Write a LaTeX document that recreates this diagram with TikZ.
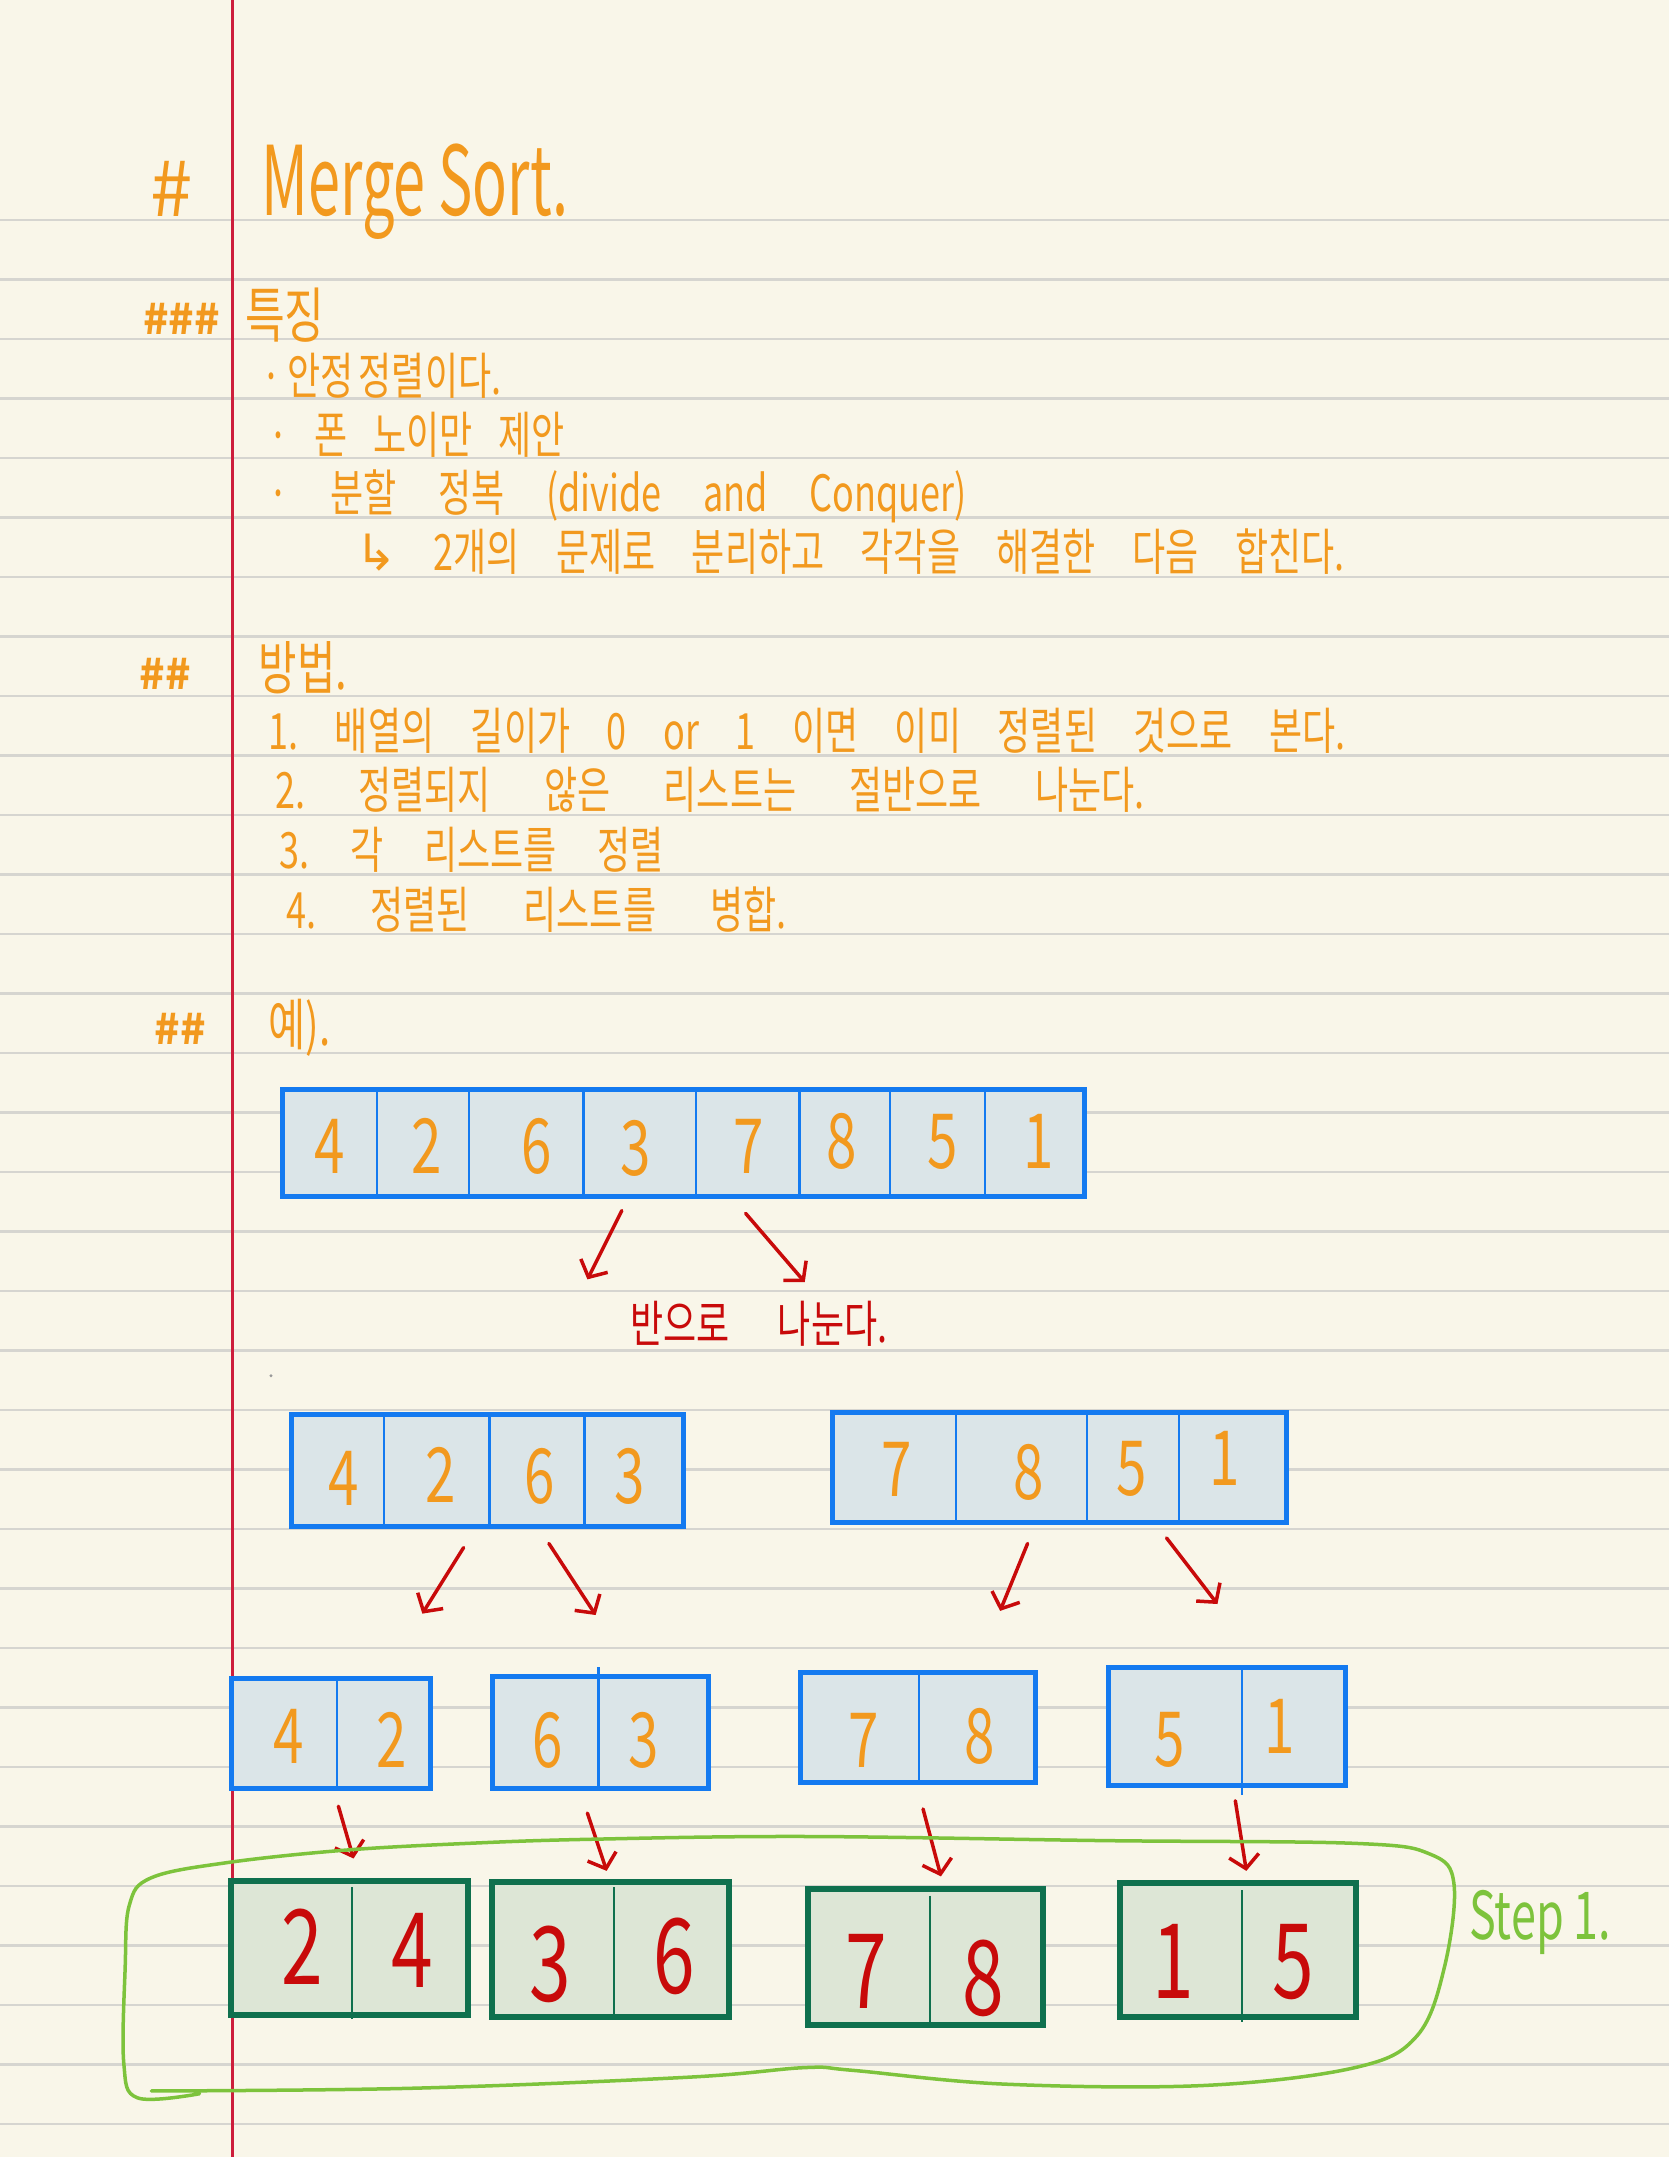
\documentclass[tikz,border=0pt]{standalone}
\usepackage{fontspec}
\setmainfont{Noto Sans CJK KR}
\newfontfamily\kr[FakeStretch=0.72]{Noto Sans CJK KR}
\newfontfamily\symf{DejaVu Sans}
\usetikzlibrary{arrows.meta,fit}
\definecolor{bg}{RGB}{249,246,233}
\definecolor{rulec}{RGB}{214,213,208}
\definecolor{margc}{RGB}{205,30,60}
\definecolor{orng}{RGB}{242,153,30}
\definecolor{blueb}{RGB}{20,122,240}
\definecolor{cellf}{RGB}{219,229,232}
\definecolor{redc}{RGB}{200,10,10}
\definecolor{greenb}{RGB}{15,112,78}
\definecolor{greenf}{RGB}{221,230,214}
\definecolor{lgreen}{RGB}{125,195,60}
\frenchspacing
\tikzset{
  rule/.style={draw=rulec, line width=2.5pt},
  txt/.style={anchor=base west, inner sep=0pt, text=orng, font=\kr\fontsize{50}{56}\selectfont},
  hdr/.style={inner sep=0pt, text=orng, font=\bfseries\fontsize{42}{42}\selectfont},
  bbox/.style={rectangle, draw=blueb, line width=5pt, fill=cellf, inner sep=0pt},
  gbox/.style={rectangle, draw=greenb, line width=6pt, fill=greenf, inner sep=0pt},
  bdiv/.style={draw=blueb, line width=2.5pt},
  gdiv/.style={draw=greenb, line width=2pt},
  dig/.style={inner sep=0pt, text=orng, font=\kr\fontsize{76}{76}\selectfont},
  rdig/.style={inner sep=0pt, text=redc, font=\kr\fontsize{104}{104}\selectfont},
  redarr/.style={draw=redc, line width=3.5pt, line cap=round, -{Straight Barb[length=13pt, width=30pt]}}
}
\begin{document}
\begin{tikzpicture}[x=1.375pt, y=-1.375pt]
\useasboundingbox (0,0) rectangle (1213,1568);
\fill[bg] (0,0) rectangle (1213,1568);
\foreach \k in {0,...,32} { \draw[rule] (0,160+43.25*\k) -- (1213,160+43.25*\k); }
\draw[draw=margc, line width=2.5pt] (169,0) -- (169,1568);

% title
\node[inner sep=0pt, text=orng, font=\fontsize{76}{76}\selectfont] (hash1) at (125,137) {\#};
\node[anchor=base west, inner sep=0pt, text=orng, font=\fontsize{96}{96}\selectfont] (title) at (190,157) {\scalebox{0.6}[1]{Merge Sort.}};

% section 1
\node[hdr] (h3) at (132,232) {\#\#\#};
\node[txt, font=\kr\fontsize{60}{64}\selectfont] (feat) at (178,245) {특징};
\node[txt] (l1) at (190,287) {\makebox[234pt][s]{· 안정 정렬이다.}};
\node[txt] (l2) at (195,330) {\makebox[296pt][s]{· 폰 노이만 제안}};
\node[txt] (l3) at (195,372) {\makebox[698pt][s]{· 분할 정복 (divide and Conquer)}};
\node[txt] (l4) at (258,415) {\makebox[989pt][s]{{\symf ↳} 2개의 문제로 분리하고 각각을 해결한 다음 합친다.}};

% section 2
\node[hdr] (h2a) at (120,490) {\#\#};
\node[txt, font=\kr\fontsize{58}{62}\selectfont] (meth) at (188,501) {방법.};
\node[txt] (m1) at (195,545) {\makebox[1077pt][s]{1. 배열의 길이가 0 or 1 이면 이미 정렬된 것으로 본다.}};
\node[txt] (m2) at (200,588) {\makebox[869pt][s]{2. 정렬되지 않은 리스트는 절반으로 나눈다.}};
\node[txt] (m3) at (203,631) {\makebox[384pt][s]{3. 각 리스트를 정렬}};
\node[txt] (m4) at (208,675) {\makebox[500pt][s]{4. 정렬된 리스트를 병합.}};

% section 3
\node[hdr] (h2b) at (131,748) {\#\#};
\node[txt, font=\kr\fontsize{56}{60}\selectfont] (ex) at (195,760) {예).};

% row 0
\node[bbox, fit={(205,792) (788,870)}] (R0) {};
\foreach \x in {274,341,424,506,581,647,716} { \draw[bdiv] (\x,792) -- (\x,870); }
\node[dig] (r0d1) at (240,833) {4};
\node[dig] (r0d2) at (310,833) {2};
\node[dig] (r0d3) at (390,833) {6};
\node[dig] (r0d4) at (462,835) {3};
\node[dig] (r0d5) at (544,833) {7};
\node[dig] (r0d6) at (612,830) {8};
\node[dig] (r0d7) at (685,830) {5};
\node[dig] (r0d8) at (755,830) {1};

\coordinate (a1s) at (452,880); \coordinate (a1e) at (427,930);
\coordinate (a2s) at (542,882); \coordinate (a2e) at (585,932);
\draw[redarr] (a1s) -- (a1e);
\draw[redarr] (a2s) -- (a2e);
\node[anchor=base west, inner sep=0pt, text=redc, font=\kr\fontsize{50}{56}\selectfont] (half) at (458,976) {\makebox[257pt][s]{반으로 나눈다.}};
\fill[black!40] (197,1000) circle (1.2);

% row 1
\node[bbox, fit={(212,1028) (497,1110)}] (R1a) {};
\foreach \x in {279,356,425} { \draw[bdiv] (\x,1028) -- (\x,1110); }
\node[dig] (r1d1) at (250,1075) {4};
\node[dig] (r1d2) at (320,1072) {2};
\node[dig] (r1d3) at (392,1073) {6};
\node[dig] (r1d4) at (458,1073) {3};
\node[bbox, fit={(605,1027) (935,1107)}] (R1b) {};
\foreach \x in {695,790,857} { \draw[bdiv] (\x,1027) -- (\x,1107); }
\node[dig] (r1d5) at (652,1068) {7};
\node[dig] (r1d6) at (748,1070) {8};
\node[dig] (r1d7) at (823,1068) {5};
\node[dig] (r1d8) at (890,1060) {1};

\coordinate (b1s) at (337,1125); \coordinate (b1e) at (307,1173);
\coordinate (b2s) at (399,1122); \coordinate (b2e) at (433,1174);
\coordinate (b3s) at (747,1122); \coordinate (b3e) at (727,1171);
\coordinate (b4s) at (848,1118); \coordinate (b4e) at (885,1166);
\foreach \p in {b1,b2,b3,b4} { \draw[redarr] (\p s) -- (\p e); }

% row 2
\node[bbox, fit={(168,1220) (313,1300)}] (R2a) {};
\draw[bdiv] (245,1220) -- (245,1300);
\node[dig] (r2d1) at (210,1262) {4};
\node[dig] (r2d2) at (285,1265) {2};
\node[bbox, fit={(358,1219) (515,1300)}] (R2b) {};
\draw[bdiv] (435,1212) -- (435,1300);
\node[dig] (r2d3) at (398,1265) {6};
\node[dig] (r2d4) at (468,1265) {3};
\node[bbox, fit={(582,1216) (753,1296)}] (R2c) {};
\draw[bdiv] (668,1216) -- (668,1296);
\node[dig] (r2d5) at (628,1265) {7};
\node[dig] (r2d6) at (712,1262) {8};
\node[bbox, fit={(806,1212) (978,1298)}] (R2d) {};
\draw[bdiv] (903,1212) -- (903,1305);
\node[dig] (r2d7) at (850,1265) {5};
\node[dig] (r2d8) at (930,1255) {1};

\coordinate (c1s) at (246,1313); \coordinate (c1e) at (257,1351);
\coordinate (c2s) at (427,1318); \coordinate (c2e) at (441,1360);
\coordinate (c3s) at (671,1315); \coordinate (c3e) at (684,1364);
\coordinate (c4s) at (898,1309); \coordinate (c4e) at (906,1360);
\foreach \p in {c1,c2,c3,c4} { \draw[redarr] (\p s) -- (\p e); }

% row 3
\node[gbox, fit={(168,1367) (340,1465)}] (R3a) {};
\draw[gdiv] (256,1372) -- (256,1468);
\node[rdig] (r3d1) at (220,1415) {2};
\node[rdig] (r3d2) at (300,1418) {4};
\node[gbox, fit={(358,1368) (530,1466)}] (R3b) {};
\draw[gdiv] (446,1372) -- (446,1468);
\node[rdig] (r3d3) at (400,1428) {3};
\node[rdig] (r3d4) at (490,1422) {6};
\node[gbox, fit={(587,1373) (758,1472)}] (R3c) {};
\draw[gdiv] (676,1378) -- (676,1474);
\node[rdig] (r3d5) at (630,1433) {7};
\node[rdig] (r3d6) at (715,1438) {8};
\node[gbox, fit={(814,1369) (986,1466)}] (R3d) {};
\draw[gdiv] (903,1374) -- (903,1470);
\node[rdig] (r3d7) at (853,1426) {1};
\node[rdig] (r3d8) at (940,1426) {5};

% green loop
\draw[draw=lgreen, line width=3.5pt, line cap=round, line join=round]
  plot[smooth, tension=0.6] coordinates {(145,1522) (100,1525) (90,1500) (91,1430) (94,1385) (110,1365) (165,1354) (250,1345) (340,1340) (430,1337) (585,1335) (803,1338) (985,1340) (1040,1348) (1057,1370) (1050,1430) (1030,1480) (985,1503) (875,1516) (730,1515) (620,1505) (585,1503) (500,1510) (300,1518) (110,1520)};
\node[anchor=base west, inner sep=0pt, text=lgreen, font=\fontsize{66}{66}\selectfont] (step) at (1068,1410) {\scalebox{0.68}[1]{Step 1.}};
\end{tikzpicture}
\end{document}
